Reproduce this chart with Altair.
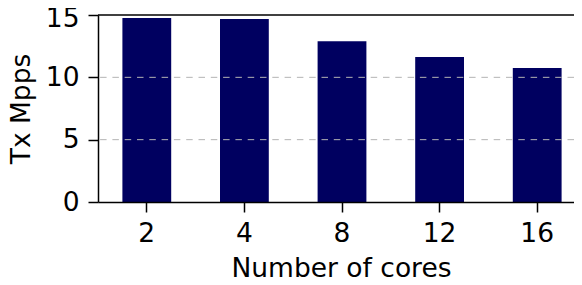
import altair as alt
import pandas as pd

cores = [2, 4, 8, 12, 16]
tx_mpps = [14.75, 14.68, 12.9, 11.63, 10.75]
y_ticks = [0, 5, 10, 15]
grid_vals = [5, 10]
top_val = [15]

FONT = "DejaVu Sans"
FS = 26.5

df = pd.DataFrame({"cores": cores, "mpps": tx_mpps})
grid_df = pd.DataFrame({"mpps": grid_vals})
top_df = pd.DataFrame({"mpps": top_val})

x = alt.X(
    "cores:O",
    title="Number of cores",
    scale=alt.Scale(range=[0, 488], paddingInner=0.5, paddingOuter=0.25),
    axis=alt.Axis(
        labelAngle=0, labelFontSize=FS, labelBaseline="alphabetic", labelPadding=29,
        labelFont=FONT, labelColor="black",
        titleFont=FONT, titleFontSize=FS, titleFontWeight="normal", titleColor="black",
        titleX=243, titleY=74.5, titleBaseline="alphabetic",
        tickSize=10, tickWidth=1.5, tickColor="black",
        domainColor="black", domainWidth=1.5, grid=False, zindex=1,
    ),
)

y = alt.Y(
    "mpps:Q",
    title="Tx Mpps",
    scale=alt.Scale(domain=[0, 15], nice=False),
    axis=alt.Axis(
        values=y_ticks, labelFontSize=FS, labelPadding=9, labelFont=FONT, labelColor="black",
        labelOffset=alt.condition("datum.value == 15", alt.value(3.5), alt.value(0)),
        titleFont=FONT, titleFontSize=FS, titleFontWeight="normal", titleColor="black",
        titleX=-69, titleY=93.5, titleAlign="center", titleBaseline="alphabetic", titleAngle=270,
        tickSize=10, tickWidth=1.5, tickColor="black",
        domainColor="black", domainWidth=1.5, grid=False, zindex=1,
    ),
)

bars = alt.Chart(df).mark_bar(color="#000060").encode(x=x, y=y)

grid = alt.Chart(grid_df).mark_rule(color="#b4b4b4", strokeDash=[6.5, 5.8], strokeWidth=1).encode(
    y=alt.Y("mpps:Q")
)

top = alt.Chart(top_df).mark_rule(color="black", strokeWidth=1.5).encode(y=alt.Y("mpps:Q"))

chart = (
    alt.layer(bars, grid, top)
    .properties(
        width=476,
        height=187,
        padding={"left": 90, "top": 7, "right": 0, "bottom": 75},
        autosize=alt.AutoSizeParams(type="none"),
    )
    .configure_view(stroke=None)
)

chart.save("out.html", embed_options={"renderer": "svg", "actions": False})
